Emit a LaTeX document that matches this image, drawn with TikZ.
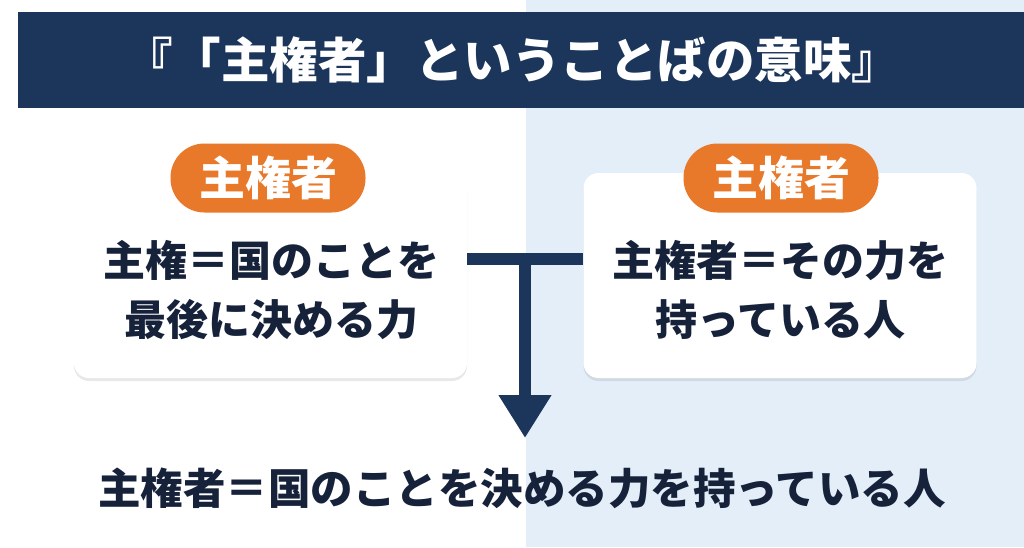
\documentclass[tikz,border=0pt]{standalone}
\usepackage{fontspec}
\setmainfont{Noto Sans CJK JP}
\usetikzlibrary{shadows,arrows.meta}
\definecolor{navy}{HTML}{1B365A}
\definecolor{bgblue}{HTML}{E3EEF9}
\definecolor{tagorange}{HTML}{E8792A}
\definecolor{ink}{HTML}{16213A}
\tikzset{
  card/.style={fill=white, rounded corners=15pt, minimum width=393pt, minimum height=205pt,
    drop shadow={opacity=0.18, shadow xshift=0pt, shadow yshift=-3pt}},
  tagpill/.style={fill=tagorange, rounded corners=34pt, minimum width=195pt, minimum height=69pt,
    inner sep=0pt, text=white, font=\bfseries\fontsize{46}{50}\selectfont},
  cardtext/.style={text=ink, align=center, font=\bfseries\fontsize{42}{59}\selectfont},
  link/.style={draw=navy, line width=12pt}
}
\begin{document}
\begin{tikzpicture}[x=1pt,y=-1pt]
\useasboundingbox (0,0) rectangle (1024,547);
\fill[white] (0,0) rectangle (526,547);
\fill[bgblue] (526,0) rectangle (1024,547);
\fill[navy] (18,12) rectangle (1024,108);
\node[text=white, font=\bfseries\fontsize{48.5}{52}\selectfont] (title) at (512,60) {『「主権者」ということばの意味』};

\node[card] (lbox) at (270.5,275.5) {};
\node[card] (rbox) at (780,275.5) {};
\node[tagpill] (ltag) at (268,178) {主権者};
\node[tagpill] (rtag) at (781,178) {主権者};
\node[cardtext] (ltext) at (271,290) {主権＝国のことを\\最後に決める力};
\node[cardtext] (rtext) at (780,290) {主権者＝その力を\\持っている人};

\coordinate (j) at (525,259);
\coordinate (arrowend) at (525,438);
\draw[link] (lbox.east |- j) -- (rbox.west |- j);
\draw[link, -{Triangle[length=43pt,width=50pt]}] ([yshift=6pt]j) -- (arrowend);

\node[text=ink, font=\bfseries\fontsize{42.5}{46}\selectfont] (result) at (522,488) {主権者＝国のことを決める力を持っている人};
\end{tikzpicture}
\end{document}
